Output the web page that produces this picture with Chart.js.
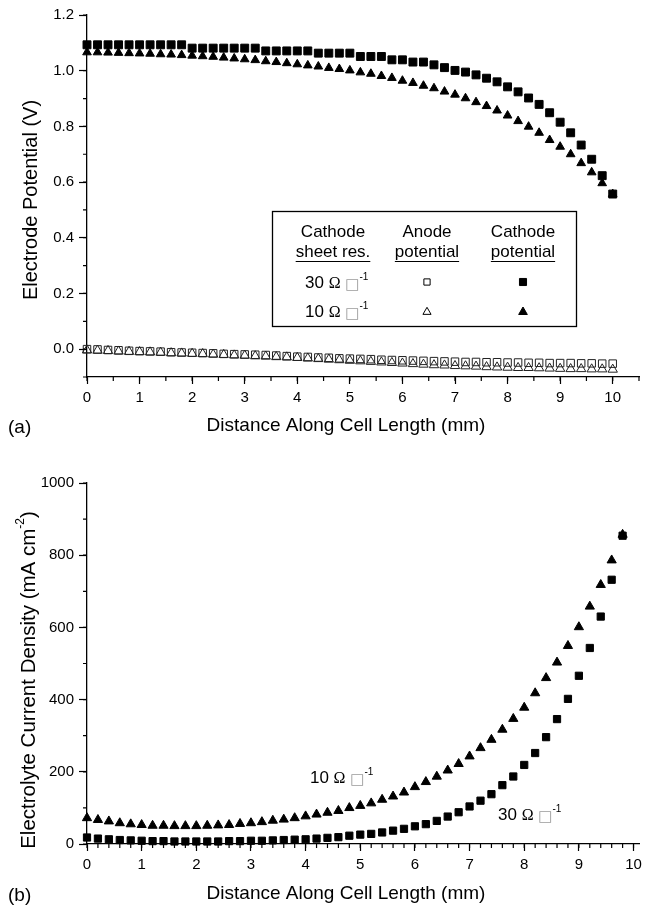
<!DOCTYPE html>
<html>
<head>
<meta charset="utf-8">
<script src="https://cdn.jsdelivr.net/npm/chart.js@4.4.1/dist/chart.umd.min.js"></script>
<style>
    body { margin: 0; background: #fff; width: 647px; height: 909px; overflow: hidden; position: relative; }
    canvas { position: absolute; left: 0; }
    #potentialChart { top: 0; }
    #currentChart { top: 450px; }
</style>
</head>
<body>
<canvas id="potentialChart" width="647" height="450"></canvas>
<canvas id="currentChart" width="647" height="459"></canvas>
<script>
// ---- (a) electrode potential vs distance ----
const distanceA = [0, 0.2, 0.4, 0.6, 0.8, 1, 1.2, 1.4, 1.6, 1.8, 2, 2.2, 2.4, 2.6, 2.8, 3, 3.2, 3.4, 3.6, 3.8, 4,
    4.2, 4.4, 4.6, 4.8, 5, 5.2, 5.4, 5.6, 5.8, 6, 6.2, 6.4, 6.6, 6.8, 7, 7.2, 7.4, 7.6, 7.8, 8, 8.2, 8.4, 8.6, 8.8,
    9, 9.2, 9.4, 9.6, 9.8, 10];
const cathode30 = [1.093, 1.093, 1.093, 1.093, 1.093, 1.093, 1.093, 1.093, 1.093, 1.093, 1.081, 1.081, 1.081, 1.081,
    1.081, 1.081, 1.081, 1.071, 1.071, 1.071, 1.071, 1.071, 1.063, 1.063, 1.063, 1.063, 1.051, 1.051, 1.051, 1.039,
    1.039, 1.031, 1.031, 1.021, 1.011, 1.001, 0.995, 0.985, 0.973, 0.960, 0.942, 0.924, 0.902, 0.879, 0.849, 0.815,
    0.777, 0.733, 0.682, 0.623, 0.557];
const cathode10 = [1.066, 1.066, 1.065, 1.064, 1.063, 1.062, 1.061, 1.059, 1.058, 1.056, 1.054, 1.052, 1.050, 1.047,
    1.044, 1.041, 1.038, 1.034, 1.031, 1.027, 1.023, 1.019, 1.015, 1.010, 1.006, 1.001, 0.994, 0.989, 0.981, 0.974,
    0.964, 0.956, 0.946, 0.937, 0.925, 0.914, 0.901, 0.887, 0.873, 0.857, 0.839, 0.819, 0.799, 0.777, 0.751, 0.727,
    0.700, 0.668, 0.635, 0.596, 0.557];
const anode30 = [0.000, -0.001, -0.003, -0.004, -0.006, -0.007, -0.008, -0.009, -0.011, -0.012, -0.013, -0.014, -0.015,
    -0.017, -0.018, -0.019, -0.020, -0.021, -0.023, -0.025, -0.027, -0.028, -0.030, -0.031, -0.033, -0.034, -0.035,
    -0.036, -0.038, -0.039, -0.040, -0.041, -0.042, -0.043, -0.044, -0.045, -0.046, -0.046, -0.047, -0.047, -0.048,
    -0.048, -0.049, -0.049, -0.050, -0.050, -0.050, -0.051, -0.051, -0.052, -0.052];
const anode10 = [-0.004, -0.005, -0.006, -0.008, -0.009, -0.010, -0.011, -0.012, -0.014, -0.015, -0.016, -0.017, -0.019,
    -0.020, -0.022, -0.023, -0.025, -0.026, -0.028, -0.029, -0.031, -0.033, -0.035, -0.037, -0.039, -0.041, -0.043,
    -0.045, -0.047, -0.049, -0.051, -0.053, -0.055, -0.057, -0.058, -0.060, -0.061, -0.062, -0.064, -0.065, -0.066,
    -0.067, -0.067, -0.068, -0.069, -0.070, -0.071, -0.071, -0.072, -0.072, -0.073];
const xTicksA = [0, 1, 2, 3, 4, 5, 6, 7, 8, 9, 10];
const yTicksA = [0, 0.2, 0.4, 0.6, 0.8, 1.0, 1.2];

// ---- (b) electrolyte current density vs distance ----
const distanceB = [0, 0.2, 0.4, 0.6, 0.8, 1, 1.2, 1.4, 1.6, 1.8, 2, 2.2, 2.4, 2.6, 2.8, 3, 3.2, 3.4, 3.6, 3.8, 4,
    4.2, 4.4, 4.6, 4.8, 5, 5.2, 5.4, 5.6, 5.8, 6, 6.2, 6.4, 6.6, 6.8, 7, 7.2, 7.4, 7.6, 7.8, 8, 8.2, 8.4, 8.6, 8.8,
    9, 9.2, 9.4, 9.6, 9.8];
const current30 = [18, 15, 13, 11, 10, 9, 8, 8, 7, 7, 7, 7, 7, 8, 8, 9, 9, 10, 11, 12, 13, 15, 17, 19, 23, 26, 28, 32,
    37, 42, 49, 55, 64, 76, 88, 104, 120, 138, 163, 187, 219, 252, 296, 346, 402, 466, 543, 630, 732, 854];
const current10 = [72, 67, 63, 58, 55, 53, 51, 51, 50, 50, 50, 51, 52, 53, 56, 58, 61, 65, 68, 72, 77, 82, 87, 92, 100,
    106, 113, 123, 132, 143, 158, 172, 187, 204, 222, 243, 266, 289, 317, 347, 378, 418, 460, 503, 549, 601, 658,
    718, 786, 857];
const xTicksB = [0, 1, 2, 3, 4, 5, 6, 7, 8, 9, 10];
const yTicksB = [0, 200, 400, 600, 800, 1000];

const SANS = '"Liberation Sans", Arial, sans-serif';
const SERIF = '"Liberation Serif", "Times New Roman", serif';
const BOX = '"DejaVu Sans", sans-serif';

const toPoints = (xs, ys) => xs.map((x, i) => ({ x: x, y: ys[i] }));

// draw a row of text pieces (used for superscripts and mixed fonts)
function drawRuns(ctx, runs, x, y, align) {
    let total = 0;
    runs.forEach((r) => {
        ctx.font = r.font;
        r.w = ctx.measureText(r.text).width;
        total += r.w;
    });
    let cx = align === 'center' ? x - total / 2 : x;
    runs.forEach((r) => {
        ctx.font = r.font;
        ctx.fillStyle = r.color || '#000';
        ctx.fillText(r.text, cx, y + (r.dy || 0));
        cx += r.w + (r.gap || 0);
    });
    return total;
}

function ohmSquareRuns(num) {
    return [
        { text: num + ' ', font: '17px ' + SANS },
        { text: '\u03A9', font: '16px ' + SERIF },
        { text: ' ', font: '17px ' + SANS },
        { text: '\u25A1', font: '15px ' + BOX, color: '#9a9a9a', dy: 1 },
        { text: '-1', font: '10px ' + SANS, dy: -8 },
    ];
}

// minor tick marks drawn from the library's scales
const minorTicksPlugin = {
    id: 'minorTicks',
    afterDraw(chart, args, opts) {
        const ctx = chart.ctx;
        const xs = chart.scales.x;
        const ys = chart.scales.y;
        ctx.save();
        ctx.strokeStyle = '#000';
        ctx.lineWidth = 1.2;
        ctx.beginPath();
        const nx = Math.floor((xs.max - xs.min) / opts.xStep + 1e-6);
        for (let i = 0; i <= nx; i++) {
            const px = xs.getPixelForValue(xs.min + i * opts.xStep);
            ctx.moveTo(px, xs.top);
            ctx.lineTo(px, xs.top + opts.length);
        }
        const ny = Math.floor((ys.max - ys.min) / opts.yStep + 1e-6);
        for (let i = 0; i <= ny; i++) {
            const py = ys.getPixelForValue(ys.min + i * opts.yStep);
            ctx.moveTo(ys.right, py);
            ctx.lineTo(ys.right - opts.length, py);
        }
        ctx.stroke();
        ctx.restore();
    },
};

const potentialTextPlugin = {
    id: 'potentialText',
    afterDraw(chart) {
        const ctx = chart.ctx;
        ctx.save();
        ctx.textBaseline = 'middle';
        ctx.textAlign = 'left';
        drawRuns(ctx, [{ text: 'Distance Along Cell Length (mm)', font: '19px ' + SANS }], 346, 426, 'center');
        drawRuns(ctx, [{ text: '(a)', font: '19px ' + SANS }], 8, 428, 'left');
        ctx.save();
        ctx.translate(31, 200);
        ctx.rotate(-Math.PI / 2);
        drawRuns(ctx, [{ text: 'Electrode Potential (V)', font: '20px ' + SANS }], 0, 0, 'center');
        ctx.restore();

        // legend table
        ctx.strokeStyle = '#000';
        ctx.lineWidth = 1.3;
        ctx.strokeRect(272.5, 211.5, 304, 115);
        ctx.textBaseline = 'alphabetic';
        const headFont = '17px ' + SANS;
        const cols = [333, 427, 523];
        const heads = [['Cathode', 'sheet res.'], ['Anode', 'potential'], ['Cathode', 'potential']];
        ctx.lineWidth = 1;
        heads.forEach((h, i) => {
            drawRuns(ctx, [{ text: h[0], font: headFont }], cols[i], 237, 'center');
            const w = drawRuns(ctx, [{ text: h[1], font: headFont }], cols[i], 257, 'center');
            ctx.beginPath();
            ctx.moveTo(cols[i] - w / 2, 261.5);
            ctx.lineTo(cols[i] + w / 2, 261.5);
            ctx.stroke();
        });
        drawRuns(ctx, ohmSquareRuns('30'), 305, 288, 'left');
        drawRuns(ctx, ohmSquareRuns('10'), 305, 317, 'left');
        const dp = Chart.helpers.drawPoint;
        ctx.strokeStyle = '#000';
        ctx.fillStyle = '#fff';
        dp(ctx, { pointStyle: 'rect', radius: 4.4, borderWidth: 1 }, cols[1], 282);
        dp(ctx, { pointStyle: 'triangle', radius: 4.7, borderWidth: 1 }, cols[1], 312);
        ctx.fillStyle = '#000';
        dp(ctx, { pointStyle: 'rect', radius: 5, borderWidth: 1 }, cols[2], 282);
        dp(ctx, { pointStyle: 'triangle', radius: 5, borderWidth: 1 }, cols[2], 312);
        ctx.restore();
    },
};

const currentTextPlugin = {
    id: 'currentText',
    afterDraw(chart) {
        const ctx = chart.ctx;
        const xs = chart.scales.x;
        const ys = chart.scales.y;
        ctx.save();
        ctx.textBaseline = 'middle';
        ctx.textAlign = 'left';
        drawRuns(ctx, [{ text: 'Distance Along Cell Length (mm)', font: '19px ' + SANS }], 346, 444, 'center');
        drawRuns(ctx, [{ text: '(b)', font: '19px ' + SANS }], 8, 446, 'left');
        ctx.save();
        ctx.translate(29, 230);
        ctx.rotate(-Math.PI / 2);
        drawRuns(ctx, [
            { text: 'Electrolyte Current Density (mA cm', font: '20.5px ' + SANS },
            { text: '-2', font: '12px ' + SANS, dy: -8 },
            { text: ')', font: '20.5px ' + SANS },
        ], 0, 0, 'center');
        ctx.restore();
        ctx.textBaseline = 'alphabetic';
        drawRuns(ctx, ohmSquareRuns('10'), xs.getPixelForValue(4.08), ys.getPixelForValue(170), 'left');
        drawRuns(ctx, ohmSquareRuns('30'), xs.getPixelForValue(7.52), ys.getPixelForValue(67), 'left');
        ctx.restore();
    },
};

function axisOptions(min, max, tickValues, fitSize, isX, fmt) {
    return {
        type: 'linear',
        min: min,
        max: max,
        afterBuildTicks: (s) => {
            s.ticks = tickValues.map((v) => ({ value: v }));
        },
        afterFit: (s) => {
            if (isX) s.height = fitSize;
            else s.width = fitSize;
        },
        ticks: {
            color: '#000',
            font: { family: SANS, size: 15 },
            padding: 5,
            maxRotation: 0,
            autoSkip: false,
            callback: fmt,
        },
        grid: { drawOnChartArea: false, tickLength: isX ? 7 : 8, color: '#000', tickWidth: 1.2 },
        border: { color: '#000', width: 1.3 },
    };
}

function seriesStyle(style, radius, filled) {
    return {
        pointStyle: style,
        pointRadius: radius,
        pointHoverRadius: radius,
        borderWidth: 1,
        borderColor: filled ? '#000' : '#222',
        backgroundColor: filled ? '#000' : 'rgba(255,255,255,0)',
        clip: false,
    };
}

new Chart(document.getElementById('potentialChart'), {
    type: 'scatter',
    data: {
        datasets: [
            { label: 'Cathode 10', data: toPoints(distanceA, cathode10), ...seriesStyle('triangle', 5, true) },
            { label: 'Cathode 30', data: toPoints(distanceA, cathode30), ...seriesStyle('rect', 5.6, true) },
            { label: 'Anode 10', data: toPoints(distanceA, anode10), ...seriesStyle('triangle', 5.4, false) },
            { label: 'Anode 30', data: toPoints(distanceA, anode30), ...seriesStyle('rect', 5.3, false) },
        ],
    },
    options: {
        responsive: false,
        animation: false,
        devicePixelRatio: 1,
        layout: { autoPadding: false, padding: { top: 15, right: 8, left: 0, bottom: 0 } },
        plugins: {
            legend: { display: false },
            tooltip: { enabled: false },
            minorTicks: { xStep: 0.5, yStep: 0.1, length: 4 },
        },
        scales: {
            x: axisOptions(0, 10.5, xTicksA, 73, true, (v) => String(v)),
            y: axisOptions(-0.1, 1.2, yTicksA, 87, false, (v) => v.toFixed(1)),
        },
    },
    plugins: [minorTicksPlugin, potentialTextPlugin],
});

new Chart(document.getElementById('currentChart'), {
    type: 'scatter',
    data: {
        datasets: [
            { label: '10 ohm/sq', data: toPoints(distanceB, current10), ...seriesStyle('triangle', 5.3, true) },
            { label: '30 ohm/sq', data: toPoints(distanceB, current30), ...seriesStyle('rect', 5.1, true) },
        ],
    },
    options: {
        responsive: false,
        animation: false,
        devicePixelRatio: 1,
        layout: { autoPadding: false, padding: { top: 33, right: 8, left: 0, bottom: 0 } },
        plugins: {
            legend: { display: false },
            tooltip: { enabled: false },
            minorTicks: { xStep: 0.2, yStep: 100, length: 4 },
        },
        scales: {
            x: axisOptions(0, 10.1, xTicksB, 65, true, (v) => String(v)),
            y: axisOptions(0, 1000, yTicksB, 87, false, (v) => String(v)),
        },
    },
    plugins: [minorTicksPlugin, currentTextPlugin],
});
</script>
</body>
</html>
